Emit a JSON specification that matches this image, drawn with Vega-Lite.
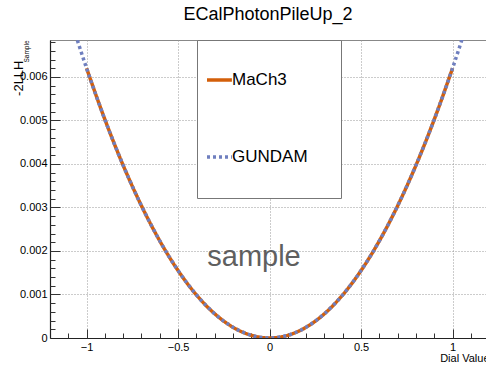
{
  "$schema": "https://vega.github.io/schema/vega-lite/v6.json",
  "width": 436,
  "height": 298,
  "autosize": {"type": "none"},
  "padding": {"left": 50, "top": 40, "right": 0, "bottom": 27},
  "title": {"text": "ECalPhotonPileUp_2", "font": "Liberation Sans", "fontSize": 18, "fontWeight": "normal", "color": "#000000", "anchor": "middle", "baseline": "alphabetic", "offset": 2},
  "config": {"view": {"stroke": "#888888", "strokeWidth": 1}, "font": "Liberation Sans"},
  "datasets": {
    "curves": [
      {"series": "MaCh3", "x": -1.0, "y": 0.0062},
      {"series": "MaCh3", "x": -0.9, "y": 0.005022},
      {"series": "MaCh3", "x": -0.8, "y": 0.003968},
      {"series": "MaCh3", "x": -0.7, "y": 0.003038},
      {"series": "MaCh3", "x": -0.6, "y": 0.002232},
      {"series": "MaCh3", "x": -0.5, "y": 0.00155},
      {"series": "MaCh3", "x": -0.4, "y": 0.000992},
      {"series": "MaCh3", "x": -0.3, "y": 0.000558},
      {"series": "MaCh3", "x": -0.2, "y": 0.000248},
      {"series": "MaCh3", "x": -0.1, "y": 0.000062},
      {"series": "MaCh3", "x": 0.0, "y": 0.0},
      {"series": "MaCh3", "x": 0.1, "y": 0.000062},
      {"series": "MaCh3", "x": 0.2, "y": 0.000248},
      {"series": "MaCh3", "x": 0.3, "y": 0.000558},
      {"series": "MaCh3", "x": 0.4, "y": 0.000992},
      {"series": "MaCh3", "x": 0.5, "y": 0.00155},
      {"series": "MaCh3", "x": 0.6, "y": 0.002232},
      {"series": "MaCh3", "x": 0.7, "y": 0.003038},
      {"series": "MaCh3", "x": 0.8, "y": 0.003968},
      {"series": "MaCh3", "x": 0.9, "y": 0.005022},
      {"series": "MaCh3", "x": 1.0, "y": 0.0062},
      {"series": "GUNDAM", "x": -1.1, "y": 0.007502},
      {"series": "GUNDAM", "x": -1.0, "y": 0.0062},
      {"series": "GUNDAM", "x": -0.9, "y": 0.005022},
      {"series": "GUNDAM", "x": -0.8, "y": 0.003968},
      {"series": "GUNDAM", "x": -0.7, "y": 0.003038},
      {"series": "GUNDAM", "x": -0.6, "y": 0.002232},
      {"series": "GUNDAM", "x": -0.5, "y": 0.00155},
      {"series": "GUNDAM", "x": -0.4, "y": 0.000992},
      {"series": "GUNDAM", "x": -0.3, "y": 0.000558},
      {"series": "GUNDAM", "x": -0.2, "y": 0.000248},
      {"series": "GUNDAM", "x": -0.1, "y": 0.000062},
      {"series": "GUNDAM", "x": 0.0, "y": 0.0},
      {"series": "GUNDAM", "x": 0.1, "y": 0.000062},
      {"series": "GUNDAM", "x": 0.2, "y": 0.000248},
      {"series": "GUNDAM", "x": 0.3, "y": 0.000558},
      {"series": "GUNDAM", "x": 0.4, "y": 0.000992},
      {"series": "GUNDAM", "x": 0.5, "y": 0.00155},
      {"series": "GUNDAM", "x": 0.6, "y": 0.002232},
      {"series": "GUNDAM", "x": 0.7, "y": 0.003038},
      {"series": "GUNDAM", "x": 0.8, "y": 0.003968},
      {"series": "GUNDAM", "x": 0.9, "y": 0.005022},
      {"series": "GUNDAM", "x": 1.0, "y": 0.0062},
      {"series": "GUNDAM", "x": 1.1, "y": 0.007502}
    ]
  },
  "layer": [
    {
      "data": {"name": "curves"},
      "mark": {"type": "line", "clip": true, "interpolate": "monotone", "strokeWidth": 3.5, "strokeCap": "butt"},
      "encoding": {
        "x": {
          "field": "x", "type": "quantitative",
          "scale": {"domain": [-1.2, 1.183], "nice": false, "zero": false},
          "axis": {
            "orient": "bottom",
            "values": [-1, -0.5, 0, 0.5, 1],
            "format": "~g",
            "labelFlush": false, "labelOverlap": false,
            "labelFont": "Liberation Sans", "labelFontSize": 11, "labelColor": "#000000", "labelPadding": 3,
            "ticks": false,
            "domainColor": "#222222", "domainWidth": 1.2,
            "grid": true, "gridColor": "#999999", "gridDash": [1, 2], "gridWidth": 1,
            "title": "Dial Value", "titleFont": "Liberation Sans", "titleFontSize": 11, "titleFontWeight": "normal", "titleColor": "#000000",
            "titleAlign": "right", "titleBaseline": "alphabetic", "titleX": 439, "titleY": 23
          }
        },
        "y": {
          "field": "y", "type": "quantitative",
          "scale": {"domain": [0, 0.00685], "nice": false, "zero": false},
          "axis": {
            "orient": "left",
            "values": [0, 0.001, 0.002, 0.003, 0.004, 0.005, 0.006],
            "format": "~g",
            "labelFlush": false, "labelOverlap": false,
            "labelFont": "Liberation Sans", "labelFontSize": 11, "labelColor": "#000000", "labelPadding": 3,
            "ticks": false,
            "domainColor": "#222222", "domainWidth": 1.2,
            "grid": true, "gridColor": "#999999", "gridDash": [1, 2], "gridWidth": 1,
            "title": "-2LLH", "titleFont": "Liberation Sans", "titleFontSize": 13, "titleFontWeight": "normal", "titleColor": "#000000",
            "titleAngle": 270, "titleAlign": "right", "titleBaseline": "top", "titleX": -38, "titleY": 20
          }
        },
        "color": {
          "field": "series", "type": "nominal", "sort": ["MaCh3", "GUNDAM"],
          "scale": {"domain": ["MaCh3", "GUNDAM"], "range": ["#d35f0a", "#6f7fbf"]},
          "legend": {
            "orient": "none", "legendX": 147, "legendY": 0, "direction": "vertical",
            "title": "\u00a0", "titleOrient": "bottom", "titleFontSize": 12, "titlePadding": 14,
            "padding": 8, "fillColor": "#ffffff", "strokeColor": "#777777", "cornerRadius": 0,
            "rowPadding": 37, "symbolType": "M-1,0H-0.17M2.95,0", "symbolSize": 3600, "symbolStrokeWidth": 3.5,
            "labelFont": "Liberation Sans", "labelFontSize": 17, "labelColor": "#000000", "labelOffset": -37
          }
        },
        "strokeDash": {
          "field": "series", "type": "nominal", "sort": ["MaCh3", "GUNDAM"],
          "scale": {"domain": ["MaCh3", "GUNDAM"], "range": [[1, 0], [3, 3]]},
          "legend": {
            "orient": "none", "legendX": 147, "legendY": 0, "direction": "vertical",
            "title": "\u00a0", "titleOrient": "bottom", "titleFontSize": 12, "titlePadding": 14,
            "padding": 8, "fillColor": "#ffffff", "strokeColor": "#777777", "cornerRadius": 0,
            "rowPadding": 37, "symbolType": "M-1,0H-0.17M2.95,0", "symbolSize": 3600, "symbolStrokeWidth": 3.5,
            "labelFont": "Liberation Sans", "labelFontSize": 17, "labelColor": "#000000", "labelOffset": -37
          }
        }
      }
    },
    {
      "data": {"values": [{"t": "sample"}]},
      "mark": {"type": "text", "font": "Liberation Sans", "fontSize": 29, "color": "#5f5f5f", "align": "center", "baseline": "alphabetic"},
      "encoding": {
        "text": {"field": "t"},
        "x": {
          "datum": -0.085, "type": "quantitative",
          "scale": {"domain": [-1.2, 1.183], "nice": false, "zero": false},
          "axis": {
            "orient": "bottom", "offset": -9,
            "values": [-1, -0.5, 0, 0.5, 1],
            "labels": false, "domain": false, "grid": false, "title": null,
            "ticks": true, "tickSize": 9, "tickColor": "#333333", "tickWidth": 1
          }
        },
        "y": {
          "datum": 0.00166, "type": "quantitative",
          "scale": {"domain": [0, 0.00685], "nice": false, "zero": false},
          "axis": {
            "orient": "left", "offset": -10,
            "values": [0.001, 0.002, 0.003, 0.004, 0.005, 0.006],
            "labels": false, "domain": false, "grid": false,
            "ticks": true, "tickSize": 10, "tickColor": "#333333", "tickWidth": 1,
            "title": "Sample", "titleFont": "Liberation Sans", "titleFontSize": 6.5, "titleFontWeight": "normal", "titleColor": "#000000",
            "titleAngle": 270, "titleAlign": "right", "titleBaseline": "top", "titleX": -36.5, "titleY": 0
          }
        }
      }
    },
    {
      "data": {"values": [{"t": ""}]},
      "mark": {"type": "text", "opacity": 0},
      "encoding": {
        "text": {"field": "t"},
        "x": {
          "datum": -0.085, "type": "quantitative",
          "scale": {"domain": [-1.2, 1.183], "nice": false, "zero": false},
          "axis": {
            "orient": "bottom", "offset": -5,
            "values": [-1.1, -0.9, -0.8, -0.7, -0.6, -0.4, -0.3, -0.2, -0.1, 0.1, 0.2, 0.3, 0.4, 0.6, 0.7, 0.8, 0.9, 1.1],
            "labels": false, "domain": false, "grid": false, "title": null,
            "ticks": true, "tickSize": 5, "tickColor": "#333333", "tickWidth": 1
          }
        },
        "y": {
          "datum": 0.00166, "type": "quantitative",
          "scale": {"domain": [0, 0.00685], "nice": false, "zero": false},
          "axis": {
            "orient": "left", "offset": -5,
            "values": [0.0002, 0.0004, 0.0006, 0.0008, 0.0012, 0.0014, 0.0016, 0.0018, 0.0022, 0.0024, 0.0026, 0.0028, 0.0032, 0.0034, 0.0036, 0.0038, 0.0042, 0.0044, 0.0046, 0.0048, 0.0052, 0.0054, 0.0056, 0.0058, 0.0062, 0.0064, 0.0066, 0.0068],
            "labels": false, "domain": false, "grid": false, "title": null,
            "ticks": true, "tickSize": 5, "tickColor": "#333333", "tickWidth": 1
          }
        }
      }
    }
  ],
  "resolve": {"axis": {"x": "independent", "y": "independent"}}
}
